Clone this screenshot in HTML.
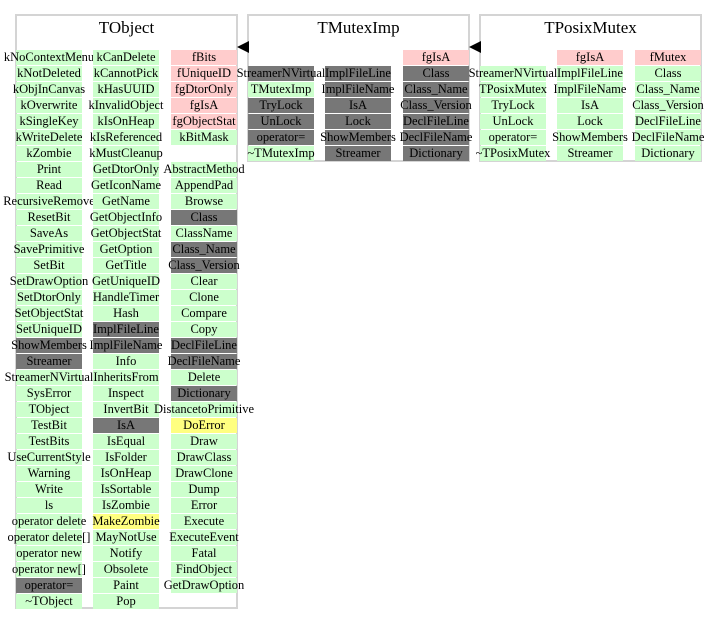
<!DOCTYPE html>
<html><head><meta charset="utf-8"><style>
body{margin:0;width:717px;height:624px;background:#fff;position:relative;overflow:hidden;font-family:"Liberation Serif",serif}
.box{position:absolute;border:2px solid #d4d4d4;border-bottom-width:2px;box-sizing:border-box}
.title{position:absolute;font-size:17px;text-align:center;top:18px}
.c{position:absolute;width:66px;height:15px;line-height:15px;font-size:12.5px;text-align:center;white-space:nowrap;overflow:visible;display:flex;justify-content:center}
.g{background:#ccffcc}.p{background:#ffcccc}.d{background:#777777}.y{background:#ffff80}
.arrow{position:absolute;width:0;height:0;border-top:6px solid transparent;border-bottom:6px solid transparent;border-right:12px solid #000}
</style></head><body>
<div class="box" style="left:15px;top:14px;width:223px;height:595px"></div>
<div class="title" style="left:15px;width:223px">TObject</div>
<div class="box" style="left:247px;top:14px;width:223px;height:148px"></div>
<div class="title" style="left:247px;width:223px">TMutexImp</div>
<div class="box" style="left:479px;top:14px;width:223px;height:148px"></div>
<div class="title" style="left:479px;width:223px">TPosixMutex</div>
<div class="arrow" style="left:237px;top:41px"></div>
<div class="arrow" style="left:469px;top:41px"></div>
<script>
// column x, start row, entries "class:text"
const cols=[
 [16,0,["g:kNoContextMenu","g:kNotDeleted","g:kObjInCanvas","g:kOverwrite","g:kSingleKey","g:kWriteDelete","g:kZombie","g:Print","g:Read","g:RecursiveRemove","g:ResetBit","g:SaveAs","g:SavePrimitive","g:SetBit","g:SetDrawOption","g:SetDtorOnly","g:SetObjectStat","g:SetUniqueID","d:ShowMembers","d:Streamer","g:StreamerNVirtual","g:SysError","g:TObject","g:TestBit","g:TestBits","g:UseCurrentStyle","g:Warning","g:Write","g:ls","g:operator delete","g:operator delete[]","g:operator new","g:operator new[]","d:operator=","g:~TObject"]],
 [93,0,["g:kCanDelete","g:kCannotPick","g:kHasUUID","g:kInvalidObject","g:kIsOnHeap","g:kIsReferenced","g:kMustCleanup","g:GetDtorOnly","g:GetIconName","g:GetName","g:GetObjectInfo","g:GetObjectStat","g:GetOption","g:GetTitle","g:GetUniqueID","g:HandleTimer","g:Hash","d:ImplFileLine","d:ImplFileName","g:Info","g:InheritsFrom","g:Inspect","g:InvertBit","d:IsA","g:IsEqual","g:IsFolder","g:IsOnHeap","g:IsSortable","g:IsZombie","y:MakeZombie","g:MayNotUse","g:Notify","g:Obsolete","g:Paint","g:Pop"]],
 [171,0,["p:fBits","p:fUniqueID","p:fgDtorOnly","p:fgIsA","p:fgObjectStat","g:kBitMask","n:","g:AbstractMethod","g:AppendPad","g:Browse","d:Class","g:ClassName","d:Class_Name","d:Class_Version","g:Clear","g:Clone","g:Compare","g:Copy","d:DeclFileLine","d:DeclFileName","g:Delete","d:Dictionary","g:DistancetoPrimitive","y:DoError","g:Draw","g:DrawClass","g:DrawClone","g:Dump","g:Error","g:Execute","g:ExecuteEvent","g:Fatal","g:FindObject","g:GetDrawOption"]],
 [248,1,["d:StreamerNVirtual","g:TMutexImp","d:TryLock","d:UnLock","d:operator=","g:~TMutexImp"]],
 [325,1,["d:ImplFileLine","d:ImplFileName","d:IsA","d:Lock","d:ShowMembers","d:Streamer"]],
 [403,0,["p:fgIsA","d:Class","d:Class_Name","d:Class_Version","d:DeclFileLine","d:DeclFileName","d:Dictionary"]],
 [480,1,["g:StreamerNVirtual","g:TPosixMutex","g:TryLock","g:UnLock","g:operator=","g:~TPosixMutex"]],
 [557,0,["p:fgIsA","g:ImplFileLine","g:ImplFileName","g:IsA","g:Lock","g:ShowMembers","g:Streamer"]],
 [635,0,["p:fMutex","g:Class","g:Class_Name","g:Class_Version","g:DeclFileLine","g:DeclFileName","g:Dictionary"]]
];
cols.forEach(([x,r0,items])=>{
 items.forEach((it,i)=>{
  const k=it.slice(0,1),t=it.slice(2);
  const el=document.createElement('div');
  el.className='c '+(k==='n'?'':k);
  el.style.left=x+'px';el.style.top=(50+16*(r0+i))+'px';
  el.textContent=t;
  
  
  document.body.appendChild(el);
 });
});
</script>
</body></html>
